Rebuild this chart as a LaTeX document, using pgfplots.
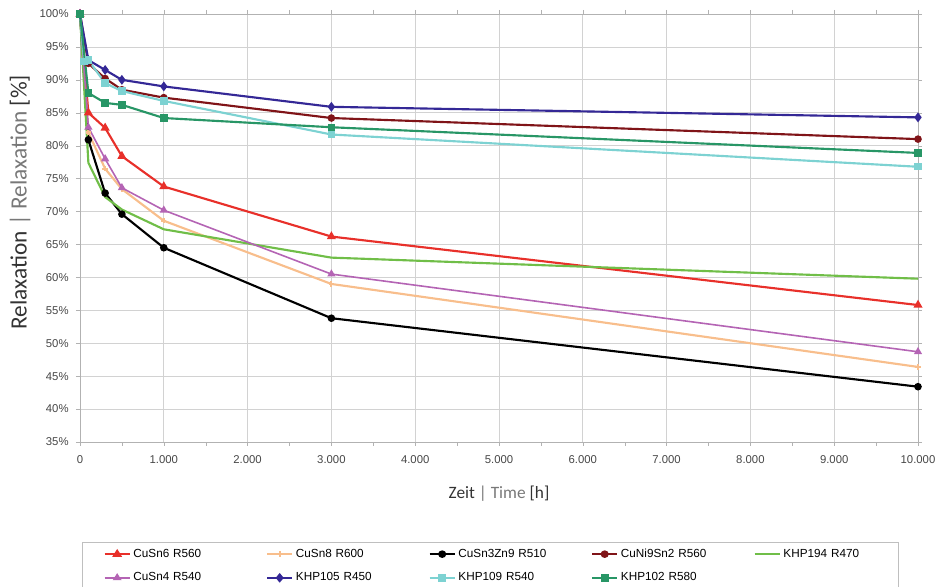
\documentclass[border=0pt]{standalone}
\usepackage{fontspec}
\setmainfont{Carlito}
\newfontfamily\arialfont{Liberation Sans}
\usepackage{pgfplots}
\pgfplotsset{compat=1.18}

\definecolor{cRed}{RGB}{232,48,42}
\definecolor{cOrange}{RGB}{248,190,140}
\definecolor{cDarkRed}{RGB}{128,20,24}
\definecolor{cGreen}{RGB}{112,190,72}
\definecolor{cPurple}{RGB}{180,100,180}
\definecolor{cBlue}{RGB}{52,40,150}
\definecolor{cCyan}{RGB}{125,210,210}
\definecolor{cTeal}{RGB}{40,150,102}
\definecolor{tickgray}{RGB}{70,70,70}
\definecolor{lblgray}{RGB}{120,120,120}

\begin{document}
\begin{tikzpicture}
\begin{axis}[
    name=ax,
    scale only axis,
    width=628.5pt, height=321pt,
    xmin=0, xmax=10000, ymin=35, ymax=100,
    xtick={0,1000,...,10000},
    ytick={35,40,...,100},
    minor x tick num=1,
    grid=major,
    grid style={gray!35, line width=0.6pt},
    axis line style={gray!60},
    tick style={gray!60},
    tick align=outside,
    major tick length=3pt, minor tick length=3pt,
    /pgf/number format/assume math mode=true,
    /pgf/number format/.cd, 1000 sep={.}, /pgfplots/.cd,
    scaled x ticks=false,
    yticklabel={\pgfmathprintnumber{\tick}\%},
    tick label style={font=\arialfont\fontsize{8.5}{10}\selectfont, text=tickgray},
    xticklabel style={yshift=-4pt},
    yticklabel style={xshift=-2pt},
    every axis x label/.style={at={(axis description cs:0.5,0)}, anchor=center, yshift=-39pt,
        font=\fontsize{13}{15}\selectfont, text=black!80},
    every axis y label/.style={at={(axis description cs:-0.0716,0.56)}, anchor=center, rotate=90,
        font=\fontsize{17.5}{20}\selectfont, text=black!80},
    xlabel={Zeit \textcolor{lblgray}{| Time} [h]},
    ylabel={Relaxation \textcolor{lblgray}{| Relaxation} [\%]},
    legend columns=5,
    legend cell align=left,
    legend style={at={(0.0024,-0.2336)}, anchor=north west, draw=gray!50,
        font=\arialfont\fontsize{8.8}{10}\selectfont,
        nodes={text width=68pt, inner sep=2pt},
        /tikz/every even column/.append style={column sep=29.5pt},
        row sep=6pt, inner xsep=16pt, inner ysep=3pt},
    legend image post style={xscale=1.1},
    every axis plot/.append style={line width=1.6pt, mark size=2.4pt},
    clip=false,
]
% CuSn6 R560
\addplot[color=cRed, mark=triangle*] coordinates {
    (0,100) (100,85.0) (300,82.7) (500,78.4) (1000,73.8) (3000,66.2) (10000,55.8)};
\addlegendentry{CuSn6 R560}
% CuSn8 R600
\addplot[color=cOrange, mark=+, mark size=2pt] coordinates {
    (0,100) (100,82.0) (300,76.5) (500,73.4) (1000,68.6) (3000,59.0) (10000,46.4)};
\addlegendentry{CuSn8 R600}
% CuSn3Zn9 R510
\addplot[color=black, mark=*, mark size=2pt] coordinates {
    (0,100) (100,80.9) (300,72.8) (500,69.6) (1000,64.5) (3000,53.8) (10000,43.4)};
\addlegendentry{CuSn3Zn9 R510}
% CuNi9Sn2 R560
\addplot[color=cDarkRed, mark=*, mark size=2pt] coordinates {
    (0,100) (100,92.5) (300,90.2) (500,88.5) (1000,87.3) (3000,84.2) (10000,81.0)};
\addlegendentry{CuNi9Sn2 R560}
% KHP194 R470
\addplot[color=cGreen, no markers] coordinates {
    (0,100) (100,77.4) (300,72.2) (500,70.3) (1000,67.3) (3000,63.0) (10000,59.8)};
\addlegendentry{KHP194 R470}
% CuSn4 R540
\addplot[color=cPurple, mark=triangle*, line width=1.2pt] coordinates {
    (0,100) (100,82.8) (300,78.0) (500,73.6) (1000,70.2) (3000,60.5) (10000,48.7)};
\addlegendentry{CuSn4 R540}
% KHP105 R450
\addplot[color=cBlue, mark=diamond*, mark size=2.4pt] coordinates {
    (0,100) (100,93.0) (300,91.5) (500,90.0) (1000,89.0) (3000,85.9) (10000,84.3)};
\addlegendentry{KHP105 R450}
% KHP109 R540
\addplot[color=cCyan, mark=square*, mark size=2pt] coordinates {
    (0,100) (50,92.8) (100,93.0) (300,89.5) (500,88.3) (1000,86.8) (3000,81.7) (10000,76.8)};
\addlegendentry{KHP109 R540}
% KHP102 R580
\addplot[color=cTeal, mark=square*, mark size=2pt] coordinates {
    (0,100) (100,88.0) (300,86.5) (500,86.2) (1000,84.2) (3000,82.8) (10000,78.9)};
\addlegendentry{KHP102 R580}
\end{axis}
\pgfresetboundingbox
\path[use as bounding box] ([xshift=-60pt,yshift=-108.75pt]ax.south west)
    rectangle ([xshift=15pt,yshift=10.5pt]ax.north east);
\end{tikzpicture}
\end{document}
